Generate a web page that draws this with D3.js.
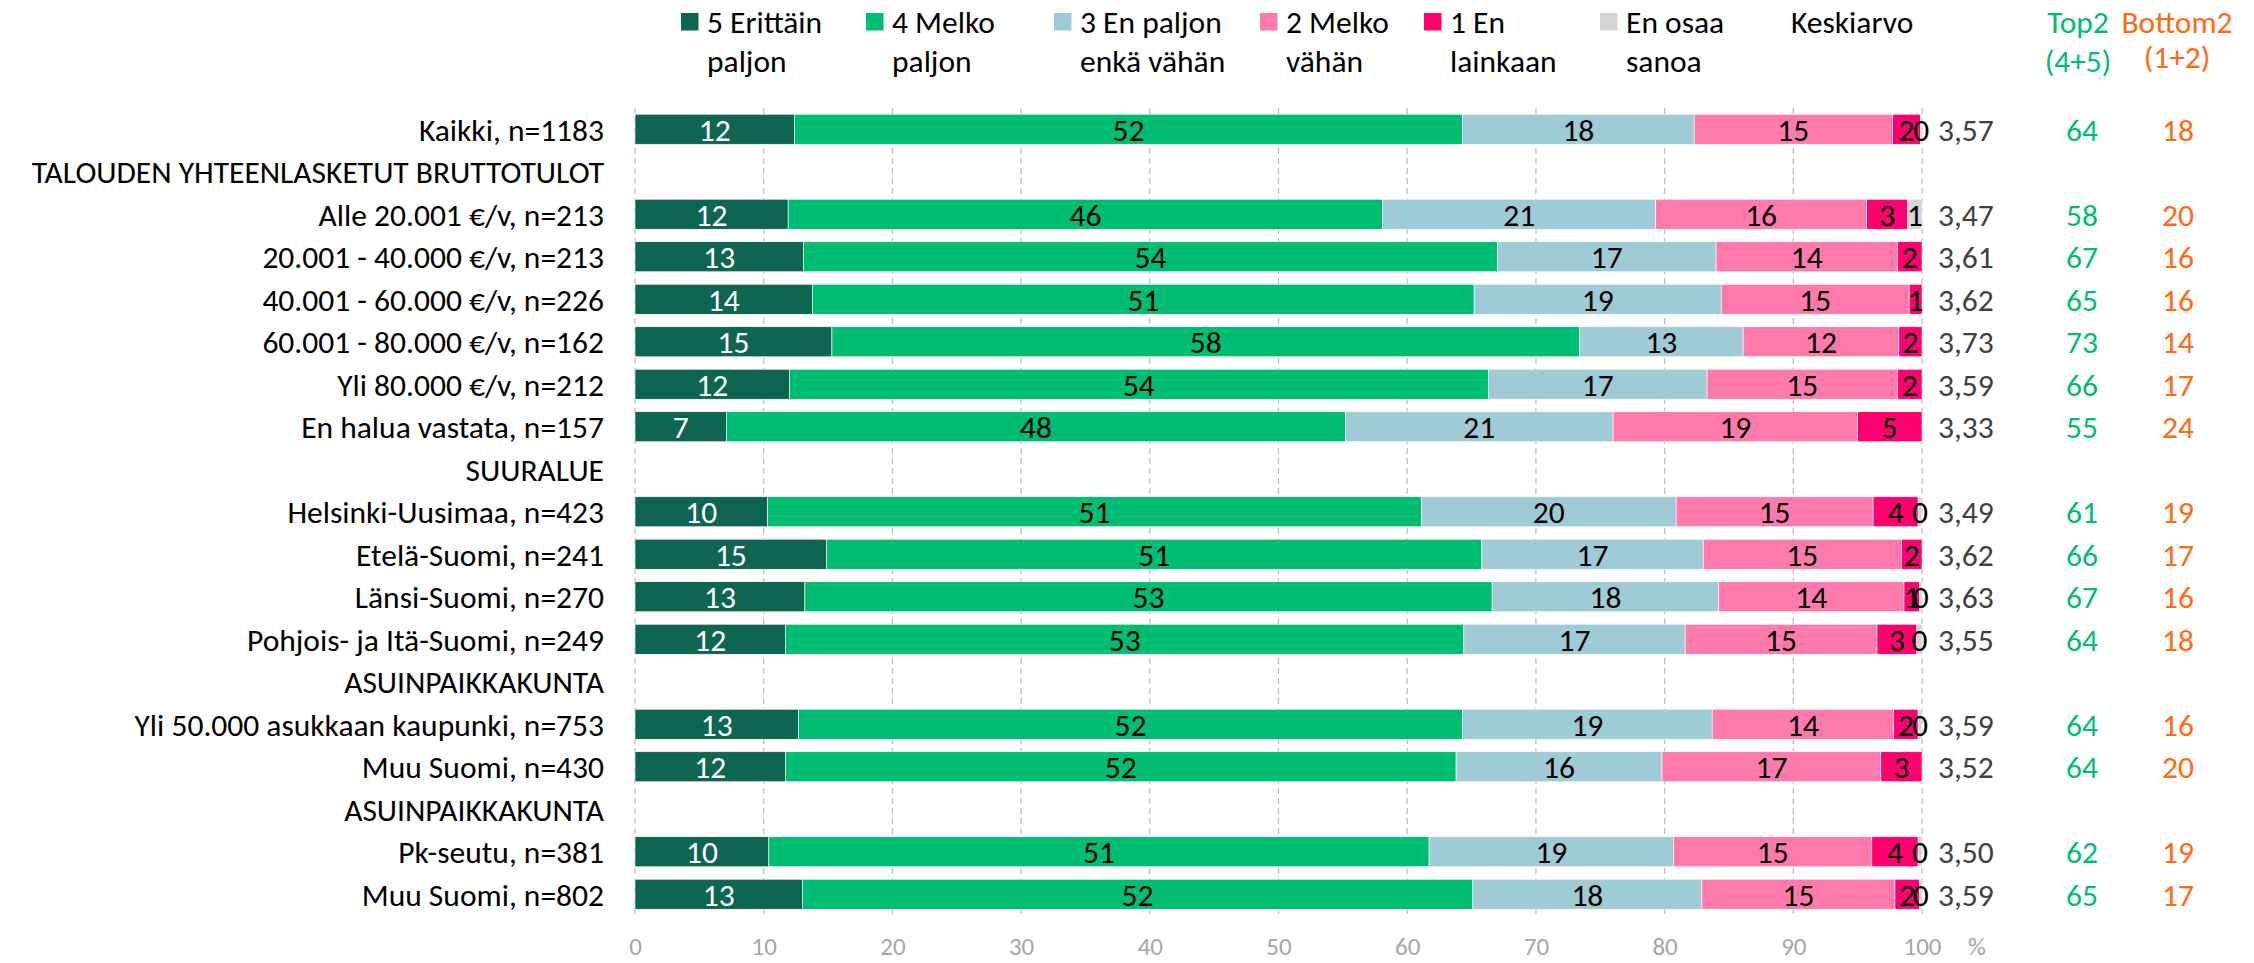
<!DOCTYPE html>
<html>
<head>
<meta charset="utf-8">
<script src="https://cdn.jsdelivr.net/npm/d3@7"></script>
<style>
  body { margin: 0; background: #fff; }
  text { font-family: Carlito, Calibri, Lato, sans-serif; }
</style>
</head>
<body>
<svg id="chart" width="2254" height="963"></svg>
<script>
// Rows (headers have no values)
const rows = [
  "Kaikki, n=1183",
  "TALOUDEN YHTEENLASKETUT BRUTTOTULOT",
  "Alle 20.001 €/v, n=213",
  "20.001 - 40.000 €/v, n=213",
  "40.001 - 60.000 €/v, n=226",
  "60.001 - 80.000 €/v, n=162",
  "Yli 80.000 €/v, n=212",
  "En halua vastata, n=157",
  "SUURALUE",
  "Helsinki-Uusimaa, n=423",
  "Etelä-Suomi, n=241",
  "Länsi-Suomi, n=270",
  "Pohjois- ja Itä-Suomi, n=249",
  "ASUINPAIKKAKUNTA",
  "Yli 50.000 asukkaan kaupunki, n=753",
  "Muu Suomi, n=430",
  "ASUINPAIKKAKUNTA",
  "Pk-seutu, n=381",
  "Muu Suomi, n=802"
];

// Series values, %
const erittain   = [12.4, null, 11.9, 13.1, 13.8, 15.3, 12.0, 7.1, null, 10.3, 14.9, 13.2, 11.7, null, 12.7, 11.7, null, 10.4, 13.0];
const melko      = [51.9, null, 46.2, 53.9, 51.4, 58.1, 54.3, 48.1, null, 50.8, 50.9, 53.4, 52.7, null, 51.6, 52.1, null, 51.3, 52.1];
const enPaljon   = [18.0, null, 21.2, 17.0, 19.2, 12.7, 17.0, 20.8, null, 19.8, 17.2, 17.6, 17.2, null, 19.4, 16.0, null, 19.0, 17.8];
const melkoVahan = [15.4, null, 16.4, 14.1, 14.6, 12.1, 14.8, 19.0, null, 15.3, 15.4, 14.4, 14.9, null, 14.1, 17.0, null, 15.4, 15.0];
const eiLainkaan = [2.2, null, 3.2, 1.9, 1.0, 1.8, 1.9, 5.0, null, 3.5, 1.6, 1.2, 3.1, null, 1.9, 3.2, null, 3.6, 1.9];
const enOsaa     = [0.1, null, 1.1, null, null, null, null, null, null, 0.3, null, 0.2, 0.4, null, 0.3, null, null, 0.3, 0.2];

const keskiarvo = [3.57, null, 3.47, 3.61, 3.62, 3.73, 3.59, 3.33, null, 3.49, 3.62, 3.63, 3.55, null, 3.59, 3.52, null, 3.50, 3.59];
const top2      = [64, null, 58, 67, 65, 73, 66, 55, null, 61, 66, 67, 64, null, 64, 64, null, 62, 65];
const bottom2   = [18, null, 20, 16, 16, 14, 17, 24, null, 19, 17, 16, 18, null, 16, 20, null, 19, 17];

const seriesNames = [
  ["5 Erittäin", "paljon"],
  ["4 Melko", "paljon"],
  ["3 En paljon", "enkä vähän"],
  ["2 Melko", "vähän"],
  ["1 En", "lainkaan"],
  ["En osaa", "sanoa"]
];
const xTicks = [0, 10, 20, 30, 40, 50, 60, 70, 80, 90, 100];

const colors = ["#0d6552", "#00bd74", "#9fcbd6", "#ff7aac", "#ff0070", "#d4d4d4"];
const labelColors = ["#fff", "#000", "#000", "#000", "#000", "#000"];
const legendX = [681, 866, 1054, 1260, 1424, 1600];

const svg = d3.select("#chart");
const fs = 31.5;
const axisFs = 25;

const keys = ["s5", "s4", "s3", "s2", "s1", "eos"];
const allSeries = [erittain, melko, enPaljon, melkoVahan, eiLainkaan, enOsaa];
const table = rows.map((r, i) => {
  const o = { row: i };
  keys.forEach((k, j) => { o[k] = allSeries[j][i] || 0; });
  return o;
});

// Scales
const x = d3.scaleLinear().domain([0, 100]).range([635, 1922]);
const y = d3.scaleBand()
  .domain(d3.range(rows.length))
  .range([108, 915.5])
  .paddingInner(0.294)
  .paddingOuter(0.147);

// Gridlines
svg.append("g")
  .selectAll("line")
  .data(xTicks)
  .enter()
  .append("line")
    .attr("x1", d => x(d))
    .attr("x2", d => x(d))
    .attr("y1", 108)
    .attr("y2", 915.5)
    .attr("stroke", "#bfbfbf")
    .attr("stroke-width", 1.3)
    .attr("stroke-dasharray", "6,4");

// Bars
const stacked = d3.stack().keys(keys)(table);

const layers = svg.append("g")
  .selectAll("g")
  .data(stacked)
  .enter()
  .append("g")
    .attr("fill", (d, i) => colors[i]);

layers.selectAll("rect")
  .data(d => d.filter(p => allSeries[d.index][p.data.row] != null))
  .enter()
  .append("rect")
    .attr("x", d => x(d[0]))
    .attr("y", d => y(d.data.row))
    .attr("width", d => x(d[1]) - x(d[0]))
    .attr("height", y.bandwidth())
    .attr("stroke", "#fff")
    .attr("stroke-width", 0.6);

// Segment labels
stacked.forEach((layer, i) => {
  svg.append("g")
    .selectAll("text")
    .data(layer.filter(p => allSeries[i][p.data.row] != null))
    .enter()
    .append("text")
      .attr("x", d => x((d[0] + d[1]) / 2))
      .attr("y", d => y(d.data.row) + y.bandwidth() / 2)
      .attr("dy", "0.36em")
      .attr("text-anchor", "middle")
      .attr("font-size", fs)
      .attr("fill", labelColors[i])
      .text(d => Math.round(allSeries[i][d.data.row]));
});

// Category labels
svg.append("g")
  .selectAll("text")
  .data(rows)
  .enter()
  .append("text")
    .attr("x", 604)
    .attr("y", (d, i) => y(i) + y.bandwidth() / 2)
    .attr("dy", "0.36em")
    .attr("text-anchor", "end")
    .attr("font-size", fs)
    .attr("fill", "#000")
    .text(d => d);

// Right-hand columns
const fmt = v => d3.format(".2f")(v).replace(".", ",");
const idx = d3.range(rows.length).filter(i => keskiarvo[i] != null);

svg.append("g").selectAll("text").data(idx).enter().append("text")
  .attr("x", 1938)
  .attr("y", i => y(i) + y.bandwidth() / 2)
  .attr("dy", "0.36em")
  .attr("font-size", fs)
  .attr("fill", "#404040")
  .text(i => fmt(keskiarvo[i]));

svg.append("g").selectAll("text").data(idx).enter().append("text")
  .attr("x", 2082)
  .attr("y", i => y(i) + y.bandwidth() / 2)
  .attr("dy", "0.36em")
  .attr("text-anchor", "middle")
  .attr("font-size", fs)
  .attr("fill", "#00bd74")
  .text(i => top2[i]);

svg.append("g").selectAll("text").data(idx).enter().append("text")
  .attr("x", 2178)
  .attr("y", i => y(i) + y.bandwidth() / 2)
  .attr("dy", "0.36em")
  .attr("text-anchor", "middle")
  .attr("font-size", fs)
  .attr("fill", "#ff6a13")
  .text(i => bottom2[i]);

// X axis
const xAxis = d3.axisBottom(x)
  .tickValues(xTicks)
  .tickSize(0)
  .tickPadding(0)
  .tickFormat(d3.format("d"));

const axisG = svg.append("g")
  .attr("transform", "translate(0,946)")
  .call(xAxis);
axisG.attr("font-family", null).attr("font-size", null);
axisG.select(".domain").remove();
axisG.selectAll("text")
  .attr("dy", "0.36em")
  .attr("font-size", axisFs)
  .attr("fill", "#a6a6a6");

svg.append("text")
  .attr("x", 1977)
  .attr("y", 946)
  .attr("dy", "0.36em")
  .attr("text-anchor", "middle")
  .attr("font-size", axisFs)
  .attr("fill", "#a6a6a6")
  .text("%");

// Legend
const legend = svg.append("g")
  .selectAll("g")
  .data(seriesNames)
  .enter()
  .append("g")
    .attr("transform", (d, i) => "translate(" + legendX[i] + ",0)");

legend.append("rect")
  .attr("x", 0)
  .attr("y", 13)
  .attr("width", 17.5)
  .attr("height", 17.5)
  .attr("fill", (d, i) => colors[i]);

legend.append("text")
  .attr("x", 26)
  .attr("y", 22)
  .attr("dy", "0.36em")
  .attr("font-size", fs)
  .attr("fill", "#000")
  .text(d => d[0]);

legend.append("text")
  .attr("x", 26)
  .attr("y", 61)
  .attr("dy", "0.36em")
  .attr("font-size", fs)
  .attr("fill", "#000")
  .text(d => d[1]);

svg.append("text")
  .attr("x", 1791).attr("y", 22).attr("dy", "0.36em")
  .attr("font-size", fs).attr("fill", "#000")
  .text("Keskiarvo");

svg.append("text")
  .attr("x", 2078).attr("y", 22).attr("dy", "0.36em")
  .attr("text-anchor", "middle")
  .attr("font-size", fs).attr("fill", "#00bd74")
  .text("Top2");
svg.append("text")
  .attr("x", 2078).attr("y", 61).attr("dy", "0.36em")
  .attr("text-anchor", "middle")
  .attr("font-size", fs).attr("fill", "#00bd74")
  .text("(4+5)");

svg.append("text")
  .attr("x", 2177).attr("y", 22).attr("dy", "0.36em")
  .attr("text-anchor", "middle")
  .attr("font-size", fs).attr("fill", "#ff6a13")
  .text("Bottom2");
svg.append("text")
  .attr("x", 2177).attr("y", 57).attr("dy", "0.36em")
  .attr("text-anchor", "middle")
  .attr("font-size", fs).attr("fill", "#ff6a13")
  .text("(1+2)");
</script>
</body>
</html>
